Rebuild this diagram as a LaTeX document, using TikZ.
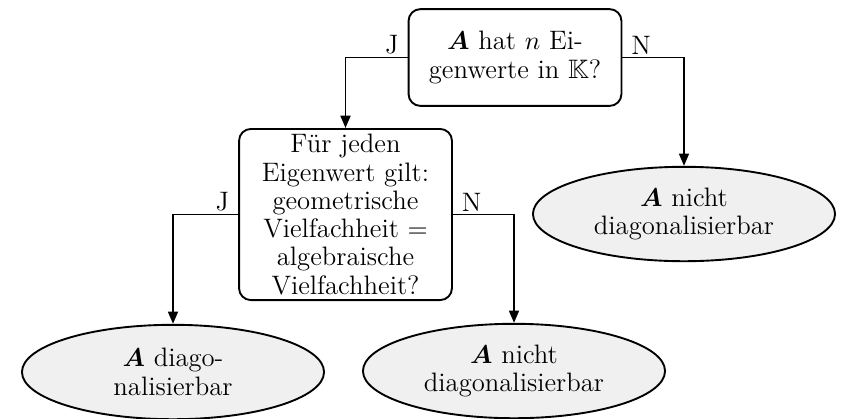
\documentclass[tikz,border=0pt]{standalone}
\usepackage{amsmath,amssymb}
\usetikzlibrary{arrows.meta,shapes.geometric}

\begin{document}
\begin{tikzpicture}[x=0.4237pt,y=-0.4237pt,
  every node/.style={font=\fontsize{11.3}{12}\selectfont},
  decision/.style={draw, line width=0.8pt, rounded corners=5pt, align=center,
    minimum width=90.2pt, inner sep=0pt},
  result/.style={ellipse, draw, line width=0.8pt, fill=black!6, align=center,
    minimum width=128pt, minimum height=40pt, inner sep=0pt},
  flow/.style={line width=0.8pt, -{Triangle[length=5.2pt,width=4.2pt]}},
  yeslabel/.style={anchor=south east, inner xsep=3.6pt, inner ysep=1.2pt},
  nolabel/.style={anchor=south west, inner xsep=3.6pt, inner ysep=1.2pt}]
  \useasboundingbox (0,0) rectangle (843,418);

  % decisions
  \node[decision, minimum height=41pt] (q1) at (515,57.5)
    {$\boldsymbol{A}$ hat $n$ Ei-\\genwerte in $\mathbb{K}$?};
  \node[decision, minimum height=72.5pt] (q2) at (345.5,214.5)
    {Für jeden\\Eigenwert gilt:\\geometrische\\Vielfachheit $=$\\algebraische\\Vielfachheit?};

  % outcomes
  \node[result] (r1) at (684,214) {$\boldsymbol{A}$ nicht\\diagonalisierbar};
  \node[result] (d2) at (173,372) {$\boldsymbol{A}$ diago-\\nalisierbar};
  \node[result] (r2) at (514,371) {$\boldsymbol{A}$ nicht\\diagonalisierbar};

  % branches
  \draw[flow] (q1.west) -| (q2.north);
  \draw[flow] (q1.east) -| (r1.north);
  \draw[flow] (q2.west) -| (d2.north);
  \draw[flow] (q2.east) -| (r2.north);

  % branch labels
  \node[yeslabel] (j1) at (q1.west) {J};
  \node[nolabel] (n1) at (q1.east) {N};
  \node[yeslabel] (j2) at (q2.west) {J};
  \node[nolabel] (n2) at (q2.east) {N};
\end{tikzpicture}
\end{document}
